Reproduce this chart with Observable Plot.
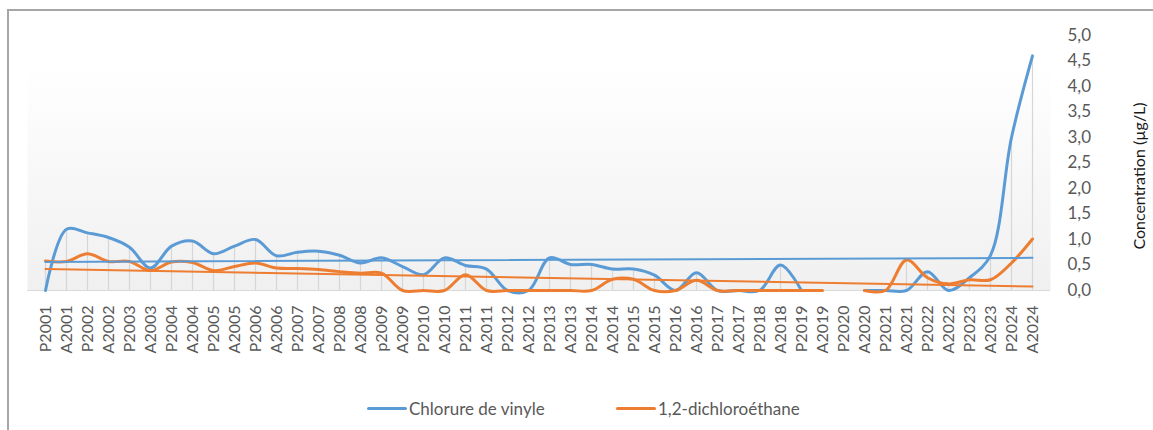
<!DOCTYPE html>
<html>
<head>
<meta charset="utf-8">
<script src="https://cdn.jsdelivr.net/npm/d3@7"></script>
<script src="https://cdn.jsdelivr.net/npm/@observablehq/plot@0.6"></script>
<style>
  html, body { margin: 0; padding: 0; background: #fff; overflow: hidden; }
  #wrap { position: relative; width: 1153px; height: 430px; }
  #border { position: absolute; left: 7px; top: 9px; width: 1200px; height: 500px;
            border-left: 2px solid #a6a6a6; border-top: 2px solid #a6a6a6; pointer-events: none; }
  #chart { position: absolute; left: 0; top: 0; }
  #ytitle { position: absolute; left: 1138px; top: 176px; transform: translate(-50%, -50%) rotate(-90deg);
            white-space: nowrap; font-family: Lato, "Open Sans", sans-serif; font-size: 16px; color: #1a1a1a; }
  #legend { position: absolute; left: 0; top: 385px; width: 1153px; height: 45px;
            font-family: Lato, "Open Sans", sans-serif; font-size: 17px; color: #595959; }
  .item { position: absolute; top: 12px; display: flex; align-items: center; height: 22px; }
  .swatch { width: 40px; height: 3px; border-radius: 2px; margin-right: 2px; }
</style>
</head>
<body>
<div id="wrap">
  <div id="border"></div>
  <div id="chart"></div>
  <div id="ytitle">Concentration (µg/L)</div>
  <div id="legend">
    <div class="item" style="left:367px"><span class="swatch" style="background:#5b9bd5"></span><span>Chlorure de vinyle</span></div>
    <div class="item" style="left:616px"><span class="swatch" style="background:#ed7d31"></span><span>1,2-dichloroéthane</span></div>
  </div>
</div>
<script>
const categories = ["P2001","A2001","P2002","A2002","P2003","A2003","P2004","A2004","P2005","A2005",
  "P2006","A2006","P2007","A2007","P2008","A2008","p2009","A2009","P2010","A2010",
  "P2011","A2011","P2012","A2012","P2013","A2013","P2014","A2014","P2015","A2015",
  "P2016","A2016","P2017","A2017","P2018","A2018","P2019","A2019","P2020","A2020",
  "P2021","A2021","P2022","A2022","P2023","A2023","P2024","A2024"];

const chlorureDeVinyle = [0, 1.2, 1.13, 1.04, 0.85, 0.44, 0.87, 0.97, 0.72, 0.87,
  1.0, 0.68, 0.75, 0.77, 0.69, 0.54, 0.64, 0.47, 0.31, 0.64,
  0.49, 0.42, 0, 0, 0.64, 0.51, 0.51, 0.42, 0.42, 0.3,
  0, 0.35, 0, 0, 0, 0.5, 0, null, null, 0,
  0, 0, 0.37, 0, 0.25, 0.69, 3.0, 4.6];

const dichloroethane = [0.58, 0.57, 0.72, 0.57, 0.57, 0.39, 0.56, 0.55, 0.39, 0.47,
  0.54, 0.44, 0.43, 0.41, 0.37, 0.34, 0.34, 0, 0, 0,
  0.31, 0, 0, 0, 0, 0, 0, 0.22, 0.22, 0,
  0, 0.2, 0, 0, 0, 0, 0, 0, null, 0,
  0, 0.6, 0.25, 0.13, 0.21, 0.21, 0.54, 1.01];

// linear trend lines (start and end values)
const trendCategories = ["P2001", "A2024"];
const chlorureTrend = [0.56, 0.64];
const dichloroTrend = [0.42, 0.08];

const yTicks = [0, 0.5, 1, 1.5, 2, 2.5, 3, 3.5, 4, 4.5, 5];

const rows = categories.map((c, i) => ({
  cat: c, cv: chlorureDeVinyle[i], dce: dichloroethane[i],
  top: Math.max(chlorureDeVinyle[i] ?? 0, dichloroethane[i] ?? 0)
}));
const cvTrendRows = trendCategories.map((c, i) => ({cat: c, v: chlorureTrend[i]}));
const dceTrendRows = trendCategories.map((c, i) => ({cat: c, v: dichloroTrend[i]}));

const BLUE = "#5b9bd5", ORANGE = "#ed7d31";

const chart = Plot.plot({
  width: 1153,
  height: 385,
  marginLeft: 37,
  marginRight: 114,
  marginTop: 35,
  marginBottom: 95,
  style: {fontFamily: "Lato, 'Open Sans', sans-serif", fontSize: "16px", color: "#595959", background: "transparent", overflow: "visible"},
  x: {type: "point", domain: categories, padding: 0},
  y: {domain: [0, 5]},
  marks: [
    () => {
      const ns = "http://www.w3.org/2000/svg";
      const defs = document.createElementNS(ns, "defs");
      defs.innerHTML = '<linearGradient id="bgGrad" x1="0" y1="0" x2="0" y2="1">' +
        '<stop offset="0" stop-color="#ffffff"/><stop offset="1" stop-color="#f0f0f0"/></linearGradient>';
      return defs;
    },
    Plot.frame({fill: "url(#bgGrad)", stroke: null, insetTop: 28, insetLeft: -10, insetRight: -11}),
    Plot.ruleX(rows.filter(d => d.top > 0), {x: "cat", y1: 0, y2: "top", stroke: "#d6d6d6", strokeWidth: 1.2}),
    Plot.ruleY([0], {stroke: "#d9d9d9", strokeWidth: 1.2, insetLeft: -10, insetRight: -11}),
    Plot.line(rows, {x: "cat", y: "cv", curve: "catmull-rom", stroke: BLUE, strokeWidth: 3}),
    Plot.line(rows, {x: "cat", y: "dce", curve: "catmull-rom", stroke: ORANGE, strokeWidth: 3}),
    Plot.line(cvTrendRows, {x: "cat", y: "v", stroke: BLUE, strokeWidth: 2}),
    Plot.line(dceTrendRows, {x: "cat", y: "v", stroke: ORANGE, strokeWidth: 2}),
    Plot.axisX({tickRotate: -90, tickSize: 0, tickPadding: 15, label: null, fontSize: 16}),
    Plot.axisY({anchor: "right", ticks: yTicks, tickSize: 0, tickPadding: 28, fontSize: 17,
      tickFormat: d => d.toFixed(1).replace(".", ","), label: null})
  ]
});
document.getElementById("chart").appendChild(chart);
</script>
</body>
</html>
